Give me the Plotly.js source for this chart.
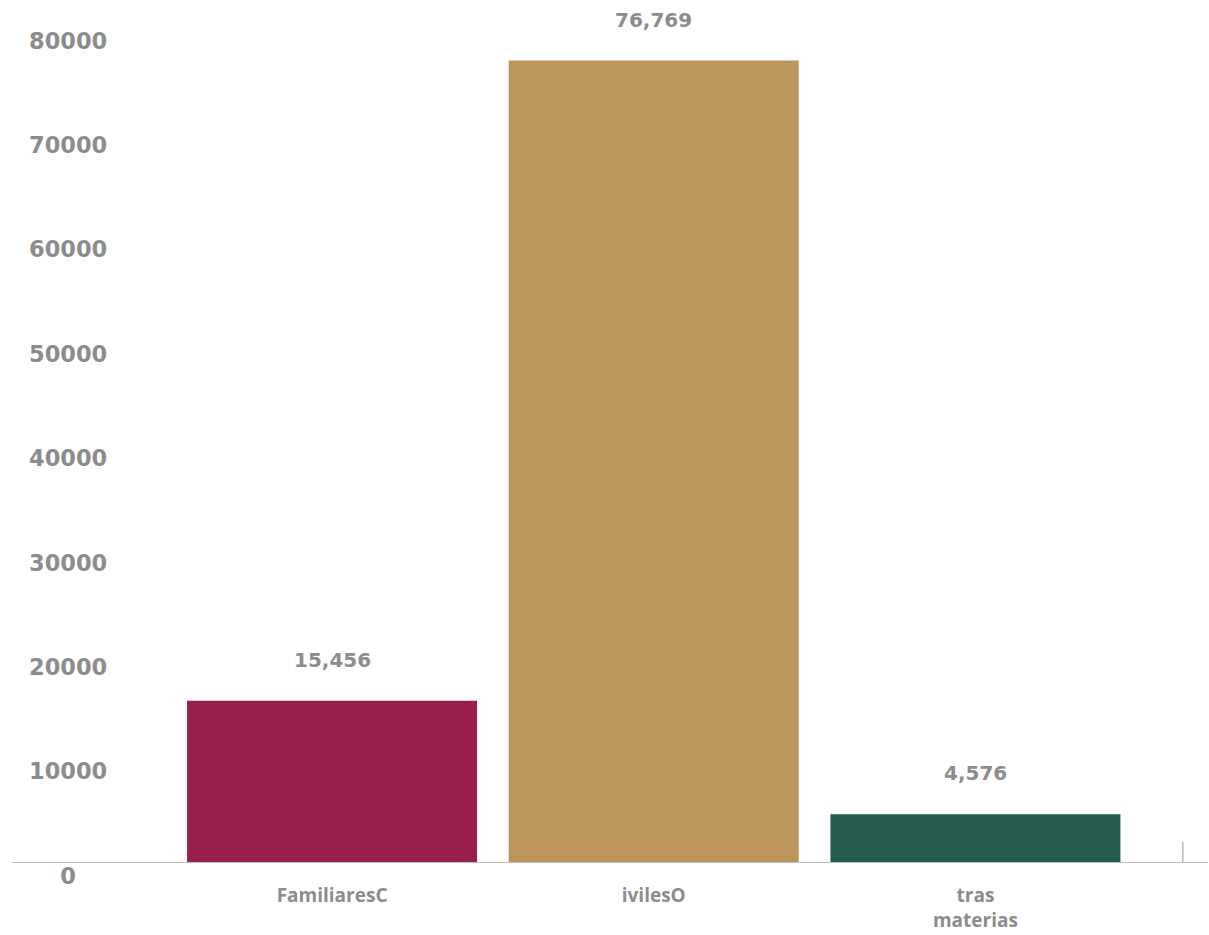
<!DOCTYPE html>
<html>
<head>
<meta charset="utf-8">
<script src="https://cdn.plot.ly/plotly-3.0.1.min.js"></script>
<style>html,body{margin:0;padding:0;background:#fff}#chart{width:1209px;height:935px}</style>
</head>
<body>
<div id="chart"></div>
<script>
const categories = ["FamiliaresC", "ivilesO", "tras<br>materias"];
const values = [15456, 76769, 4576];
const valueLabels = ["15,456", "76,769", "4,576"];
const barColors = ["#981F4C", "#BC955C", "#235B4E"];
const yTickVals = [0, 10000, 20000, 30000, 40000, 50000, 60000, 70000, 80000];
const yTickText = ["0", "10000", "20000", "30000", "40000", "50000", "60000", "70000", "80000"];

const grey = "#8c8c8c";

// centre the tick labels by padding shorter ones with figure spaces
const maxLen = Math.max(...yTickText.map(t => t.length));
const centredTickText = yTickText.map(t => "\u2007".repeat(Math.floor((maxLen - t.length) / 2)) + t);

const trace = {
  type: "bar",
  x: categories,
  y: values,
  marker: { color: barColors },
  hoverinfo: "none"
};

const annotations = categories.map((c, i) => ({
  x: c, y: values[i], xref: "x", yref: "y",
  text: valueLabels[i], showarrow: false,
  yanchor: "bottom", yshift: 27,
  font: { family: "DejaVu Sans", size: 20, color: grey, weight: 700 }
}));

const layout = {
  width: 1209, height: 935,
  margin: { l: 12, r: 1, t: 10, b: 73 },
  paper_bgcolor: "#fff", plot_bgcolor: "#fff",
  showlegend: false,
  bargap: 0.0985,
  xaxis: {
    type: "category",
    range: [-0.995, 2.723],
    showline: true, linecolor: "#bdbdbd", linewidth: 1,
    showgrid: false, zeroline: false, ticks: "",
    ticklabelstandoff: 16,
    tickfont: { family: "Open Sans", size: 19, color: grey, weight: 700 }
  },
  yaxis: {
    range: [0, 81610],
    showgrid: false, zeroline: false, showline: false, ticks: "",
    tickmode: "array", tickvals: yTickVals, ticktext: centredTickText,
    ticklabelposition: "inside",
    ticklabeloverflow: "allow",
    ticklabelstandoff: 14,
    ticklabelshift: 14,
    tickfont: { family: "DejaVu Sans", size: 22.5, color: grey, weight: 700 }
  },
  annotations: annotations,
  shapes: [{
    type: "line", xref: "paper", yref: "paper",
    x0: 0.979, x1: 0.979, y0: 0, y1: 0.0235,
    line: { color: "#9a9a9a", width: 1 }
  }]
};

Plotly.newPlot("chart", [trace], layout, { displayModeBar: false, staticPlot: true });
</script>
</body>
</html>
